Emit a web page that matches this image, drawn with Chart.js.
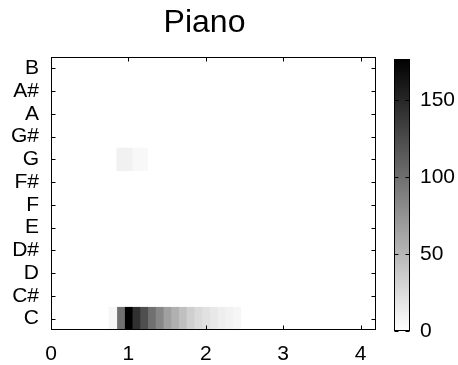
<!DOCTYPE html>
<html>
<head>
<meta charset="utf-8">
<script src="https://cdn.jsdelivr.net/npm/chart.js@4.4.1/dist/chart.umd.min.js"></script>
<style>
  html, body { margin: 0; padding: 0; background: #fff; }
  #wrap { position: relative; width: 458px; height: 365px; }
  #main { position: absolute; left: 0; top: 0; width: 390px; height: 365px; }
  #bar { position: absolute; left: 380px; top: 0; width: 78px; height: 365px; }
</style>
</head>
<body>
<div id="wrap">
  <div id="main"><canvas id="heat"></canvas></div>
  <div id="bar"><canvas id="cbar"></canvas></div>
</div>
<script>
// chroma frames (seconds), 0.1 s each
const pitchClasses = ['C', 'C#', 'D', 'D#', 'E', 'F', 'F#', 'G', 'G#', 'A', 'A#', 'B'];
const frameStarts = [0.75, 0.85, 0.95, 1.05, 1.15, 1.25, 1.35, 1.45, 1.55, 1.65, 1.75, 1.85, 1.95, 2.05, 2.15, 2.25, 2.35];
const frameWidth = 0.1;
const valuesC = [6, 99, 177, 144, 122, 99, 83, 66, 55, 44, 33, 26, 21, 16, 12, 9, 6];
const valuesG = [0, 10, 10, 5, 5, 0, 0, 0, 0, 0, 0, 0, 0, 0, 0, 0, 0];
// every other pitch class is 0 in all frames
const chroma = { 'C': valuesC, 'G': valuesG };
const xTicks = [0, 1, 2, 3, 4];
const xMax = 4.2;
const cbTicks = [0, 50, 100, 150];
const cMax = 177;

Chart.defaults.font.family = "'Liberation Sans', Arial, sans-serif";
Chart.defaults.color = '#000';

const gray = v => {
    const g = Math.round(255 * (1 - Math.min(v, cMax) / cMax));
    return `rgb(${g},${g},${g})`;
};

// black box with short inward ticks, like matlab axes
const boxPlugin = {
    id: 'box',
    afterDraw(chart) {
        const { ctx, chartArea: a, scales } = chart;
        const L = Math.round(a.left) + 0.5, R = Math.round(a.right) - 0.5;
        const T = Math.round(a.top) + 0.5, B = Math.round(a.bottom) - 0.5;
        ctx.save();
        ctx.strokeStyle = '#000';
        ctx.lineWidth = 1;
        ctx.beginPath();
        if (scales.x && scales.x.options.display !== false) {
            scales.x.ticks.forEach((t, i) => {
                const px = Math.round(scales.x.getPixelForTick(i)) + 0.5;
                ctx.moveTo(px, B); ctx.lineTo(px, B - 4);
                ctx.moveTo(px, T); ctx.lineTo(px, T + 4);
            });
        }
        scales.y.ticks.forEach((t, i) => {
            const py = Math.round(scales.y.getPixelForTick(i)) + 0.5;
            ctx.moveTo(L, py); ctx.lineTo(L + 4, py);
            ctx.moveTo(R, py); ctx.lineTo(R - 4, py);
        });
        ctx.stroke();
        ctx.strokeRect(L, T, R - L, B - T);
        ctx.restore();
    }
};

const titlePlugin = {
    id: 'plotTitle',
    afterDraw(chart) {
        const { ctx, chartArea: a } = chart;
        ctx.save();
        ctx.font = "32px 'Liberation Sans', Arial, sans-serif";
        ctx.fillStyle = '#000';
        ctx.textAlign = 'center';
        ctx.textBaseline = 'alphabetic';
        ctx.fillText('Piano', (a.left + a.right) / 2 - 9, 32);
        ctx.restore();
    }
};

// one floating-bar dataset per frame, one bar per pitch class
const datasets = frameStarts.map((t0, i) => ({
    data: pitchClasses.map(p => {
        const v = (chroma[p] || [])[i] || 0;
        return v > 0 ? [t0, t0 + frameWidth] : null;
    }),
    backgroundColor: pitchClasses.map(p => gray((chroma[p] || [])[i] || 0)),
    borderWidth: 0,
    grouped: false,
    barPercentage: 1,
    categoryPercentage: 1,
}));

new Chart(document.getElementById('heat'), {
    type: 'bar',
    data: { labels: pitchClasses, datasets },
    options: {
        indexAxis: 'y',
        responsive: true,
        maintainAspectRatio: false,
        animation: false,
        layout: { padding: { top: 57, right: 14, left: 0, bottom: 0 } },
        plugins: { legend: { display: false }, tooltip: { enabled: false } },
        scales: {
            x: {
                type: 'linear', min: 0, max: xMax,
                grid: { display: false }, border: { display: false },
                afterBuildTicks: s => { s.ticks = xTicks.map(v => ({ value: v })); },
                afterFit: s => { s.height = 35; },
                ticks: { font: { size: 21 }, padding: 4, color: '#000' },
            },
            y: {
                type: 'category', reverse: true,
                grid: { display: false }, border: { display: false },
                afterFit: s => { s.width = 51; },
                ticks: { font: { size: 21 }, padding: 4, color: '#000', autoSkip: false },
            },
        },
    },
    plugins: [boxPlugin, titlePlugin],
});

new Chart(document.getElementById('cbar'), {
    type: 'bar',
    data: {
        labels: ['cb'],
        datasets: [{
            data: [[0, cMax]],
            borderWidth: 0,
            barPercentage: 1,
            categoryPercentage: 1,
            backgroundColor: c => {
                const y = c.chart.scales.y;
                if (!y || !c.chart.chartArea) return '#888';
                const g = c.chart.ctx.createLinearGradient(0, y.getPixelForValue(0), 0, y.getPixelForValue(cMax));
                g.addColorStop(0, '#ffffff');
                g.addColorStop(1, '#000000');
                return g;
            },
        }],
    },
    options: {
        responsive: true,
        maintainAspectRatio: false,
        animation: false,
        layout: { padding: { top: 59, right: 0, left: 14, bottom: 34 } },
        plugins: { legend: { display: false }, tooltip: { enabled: false } },
        scales: {
            x: { display: false },
            y: {
                position: 'right', min: 0, max: cMax,
                grid: { display: false }, border: { display: false },
                afterBuildTicks: s => { s.ticks = cbTicks.map(v => ({ value: v })); },
                afterFit: s => { s.width = 48; },
                ticks: { font: { size: 21 }, padding: 2, color: '#000' },
            },
        },
    },
    plugins: [boxPlugin],
});
</script>
</body>
</html>
